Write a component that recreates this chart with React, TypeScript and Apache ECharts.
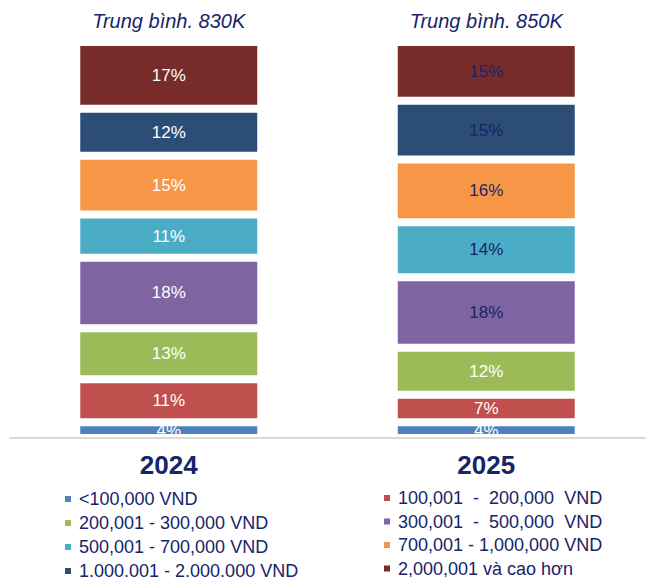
import React, { useEffect, useRef } from "react";
import * as echarts from "echarts";

const years = ["2024", "2025"];
const averages = ["Trung bình. 830K", "Trung bình. 850K"];
const seriesNames = [
  "<100,000 VND",
  "100,001  -  200,000  VND",
  "200,001 - 300,000 VND",
  "300,001  -  500,000  VND",
  "500,001 - 700,000 VND",
  "700,001 - 1,000,000 VND",
  "1.000.001 - 2.000.000 VND",
  "2,000,001 và cao hơn",
];
const values2024 = [4, 11, 13, 18, 11, 15, 12, 17];
const values2025 = [4, 7, 12, 18, 14, 16, 15, 15];
const colors = ["#4f81bd", "#c0504d", "#9bbb59", "#8064a2", "#4bacc6", "#f79646", "#2c4d75", "#772c2a"];
// label color in 2025 bar: dark for these series indexes
const darkLabel2025 = [false, false, false, true, true, true, true, true];

const NAVY = "#16246a";
const FONT = "'Liberation Sans', Arial, sans-serif";

export default function App() {
  const ref = useRef<HTMLDivElement>(null);
  useEffect(() => {
    if (!ref.current) return;
    const chart = echarts.init(ref.current, null, { renderer: "svg" });
    const series = seriesNames.map((name, i) => ({
      name,
      type: "bar",
      stack: "total",
      barWidth: 185,
      itemStyle: { color: colors[i], borderColor: "#ffffff", borderWidth: 4 },
      label: {
        show: true,
        position: "inside",
        formatter: "{c}%",
        fontSize: 17,
        fontFamily: FONT,
        color: "#ffffff",
      },
      data: [
        { value: values2024[i] },
        {
          value: values2025[i],
          label: { color: darkLabel2025[i] ? NAVY : "#ffffff" },
        },
      ],
    }));
    const legendCommon = {
      orient: "vertical",
      icon: "rect",
      itemWidth: 6,
      itemHeight: 6,
      height: 120,
      width: 280,
      selectedMode: false,
      itemStyle: { borderWidth: 0 },
      textStyle: {
        fontSize: 18,
        lineHeight: 18,
        color: NAVY,
        fontFamily: FONT,
        padding: [0, 0, 0, 3],
      },
    };
    chart.setOption({
      animation: false,
      textStyle: { fontFamily: FONT },
      grid: { left: 10, right: 4, top: 42, bottom: 139 },
      legend: [
        { ...legendCommon, itemGap: 6, left: 60, top: 485, data: seriesNames.filter((_, i) => i % 2 === 0) },
        { ...legendCommon, itemGap: 5.5, left: 379, top: 484, data: seriesNames.filter((_, i) => i % 2 === 1) },
      ],
      xAxis: [
        {
          type: "category",
          data: years,
          position: "bottom",
          axisTick: { show: false },
          axisLine: { show: true, lineStyle: { color: "#d9d9d9", width: 2 } },
          axisLabel: {
            margin: 14,
            fontSize: 26,
            fontWeight: "bold",
            color: NAVY,
            fontFamily: FONT,
          },
          z: 10,
        },
        {
          type: "category",
          data: averages,
          position: "top",
          axisTick: { show: false },
          axisLine: { show: false },
          axisLabel: {
            margin: 11,
            fontSize: 20,
            fontStyle: "italic",
            color: NAVY,
            fontFamily: FONT,
          },
        },
      ],
      yAxis: { type: "value", min: 0, max: 101, show: false, splitLine: { show: false } },
      series,
    });
    return () => chart.dispose();
  }, []);
  return (
    <div
      ref={ref}
      style={{ position: "fixed", left: 0, top: 0, width: 649, height: 577, background: "#ffffff" }}
    />
  );
}
